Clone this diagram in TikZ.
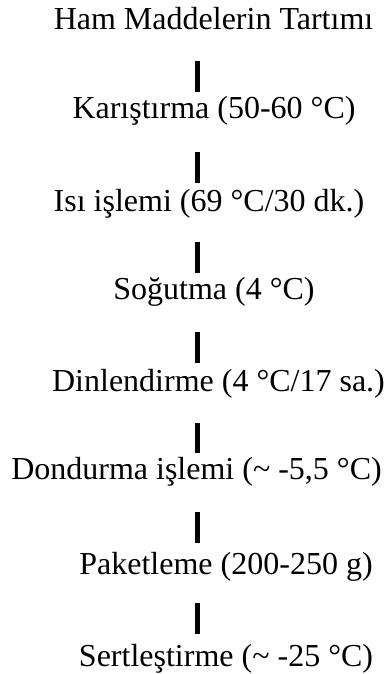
\documentclass[tikz,border=0pt]{standalone}
\usepackage{fontspec}
\setmainfont{Liberation Serif}
\begin{document}
\begin{tikzpicture}[x=1pt,y=1pt,
  lbl/.style={anchor=base, inner sep=0pt, font=\fontsize{32}{36}\selectfont},
  conn/.style={line width=4.5pt}]
\useasboundingbox (0,0) rectangle (389,674);
\node[lbl] (s1) at (213.5,644) {Ham Maddelerin Tartımı};
\node[lbl] (s2) at (214,555) {Karıştırma (50-60 °C)};
\node[lbl] (s3) at (209,462) {Isı işlemi (69 °C/30 dk.)};
\node[lbl] (s4) at (214,374) {Soğutma (4 °C)};
\node[lbl] (s5) at (218.5,282) {Dinlendirme (4 °C/17 sa.)};
\node[lbl] (s6) at (196.5,194) {Dondurma işlemi (\textasciitilde{} -5,5 °C)};
\node[lbl] (s7) at (226,99) {Paketleme (200-250 g)};
\node[lbl] (s8) at (226,8) {Sertleştirme (\textasciitilde{} -25 °C)};
\coordinate (a1) at (197.5,613);   \coordinate (b1) at (197.5,582.3);
\coordinate (a2) at (197.5,522.3); \coordinate (b2) at (197.5,491.3);
\coordinate (a3) at (197.5,432.3); \coordinate (b3) at (197.5,401.3);
\coordinate (a4) at (197.5,342.3); \coordinate (b4) at (197.5,311.3);
\coordinate (a5) at (197.5,251.3); \coordinate (b5) at (197.5,220.7);
\coordinate (a6) at (197.5,161.7); \coordinate (b6) at (197.5,130.7);
\coordinate (a7) at (197.5,70.7);  \coordinate (b7) at (197.5,39.7);
\foreach \i in {1,...,7} \draw[conn] (a\i) -- (b\i);
\end{tikzpicture}
\end{document}
